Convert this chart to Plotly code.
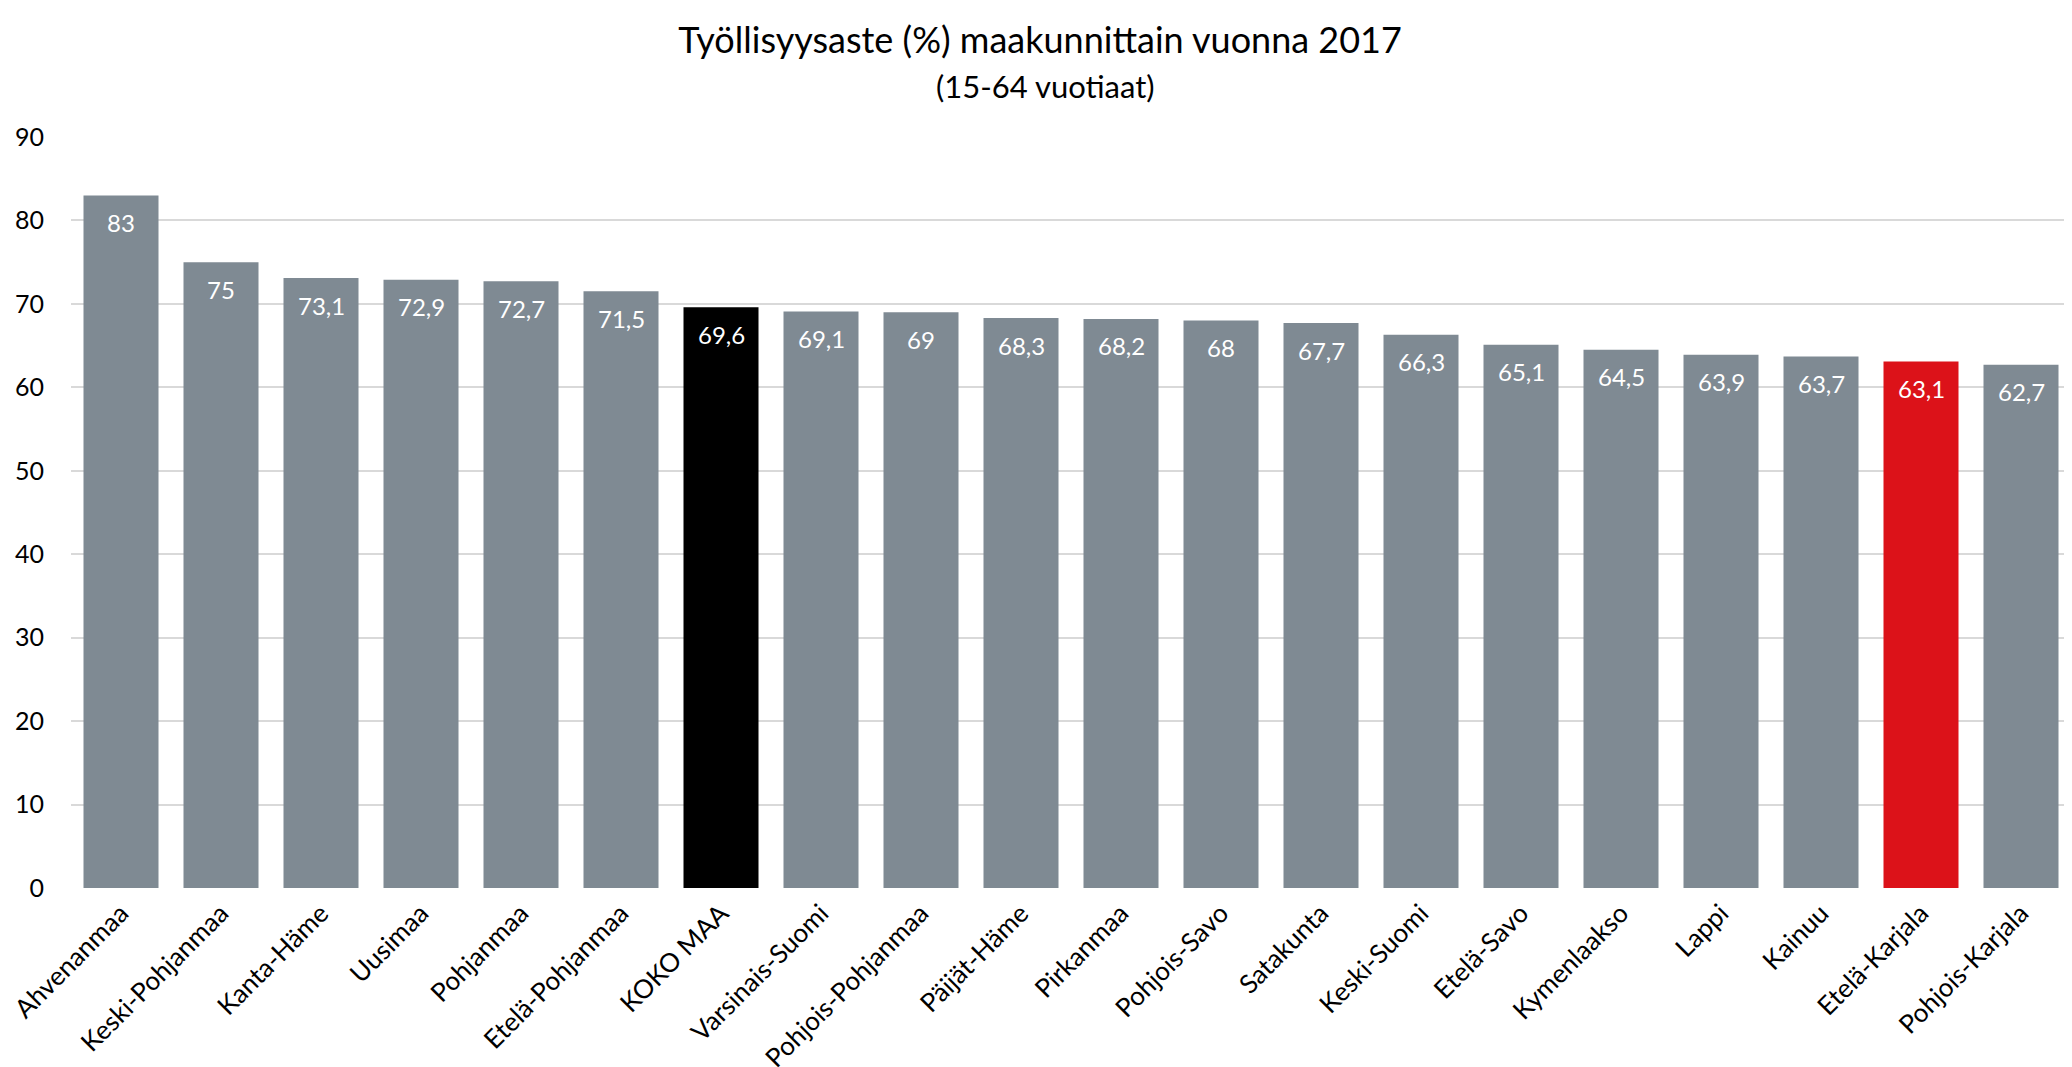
import plotly.graph_objects as go

regions = ["Ahvenanmaa", "Keski-Pohjanmaa", "Kanta-Häme", "Uusimaa", "Pohjanmaa",
           "Etelä-Pohjanmaa", "KOKO MAA", "Varsinais-Suomi", "Pohjois-Pohjanmaa",
           "Päijät-Häme", "Pirkanmaa", "Pohjois-Savo", "Satakunta", "Keski-Suomi",
           "Etelä-Savo", "Kymenlaakso", "Lappi", "Kainuu", "Etelä-Karjala", "Pohjois-Karjala"]
rates = [83, 75, 73.1, 72.9, 72.7, 71.5, 69.6, 69.1, 69, 68.3, 68.2, 68, 67.7, 66.3,
         65.1, 64.5, 63.9, 63.7, 63.1, 62.7]
y_ticks = [0, 10, 20, 30, 40, 50, 60, 70, 80, 90]

colors = []
for r in regions:
    if r == "KOKO MAA":
        colors.append("#000000")
    elif r == "Etelä-Karjala":
        colors.append("#DC1219")
    else:
        colors.append("#7F8A93")

labels = [("%g" % v).replace(".", ",") for v in rates]

font = "Lato, Open Sans, sans-serif"

W, H = 2064, 1059
T, B, L, R = 129, 179, 63, 1
plot_h = H - T - B
plot_w = W - L - R

fig = go.Figure(go.Bar(
    x=regions, y=rates, marker=dict(color=colors, line=dict(width=0)),
    width=0.75, hoverinfo="x+y",
))

for r, v, t in zip(regions, rates, labels):
    fig.add_annotation(x=r, y=v, xref="x", yref="y", text=t, showarrow=False,
                       yanchor="middle", yshift=-27,
                       font=dict(color="white", size=24, family=font))

fig.update_layout(
    width=W, height=H,
    paper_bgcolor="white", plot_bgcolor="white",
    margin=dict(l=L, r=R, t=T, b=B),
    font=dict(family=font, color="#000000"),
    title=dict(text="Työllisyysaste (%) maakunnittain vuonna 2017",
               x=0.5, xanchor="center", xref="container", y=1 - 32 / H, yanchor="middle",
               font=dict(size=36, family=font, color="#000000")),
    showlegend=False,
)
fig.add_annotation(text="(15-64 vuotiaat)", xref="paper", yref="paper",
                   x=0.5 - 26 / plot_w, y=1 + (T - 78) / plot_h,
                   xanchor="center", yanchor="middle",
                   showarrow=False, font=dict(size=31, family=font, color="#000000"))
fig.update_yaxes(range=[0, 90], tickvals=y_ticks, showgrid=True, gridcolor="#D9D9D9",
                 gridwidth=2, zeroline=False, showline=False,
                 tickfont=dict(size=25, family=font, color="#000000"), ticks="",
                 ticklabelstandoff=26)
fig.update_xaxes(tickangle=-45, tickfont=dict(size=26, family=font, color="#000000"),
                 showline=False, ticks="", automargin=False, ticklabelstandoff=4)

fig.write_html("out.html")
